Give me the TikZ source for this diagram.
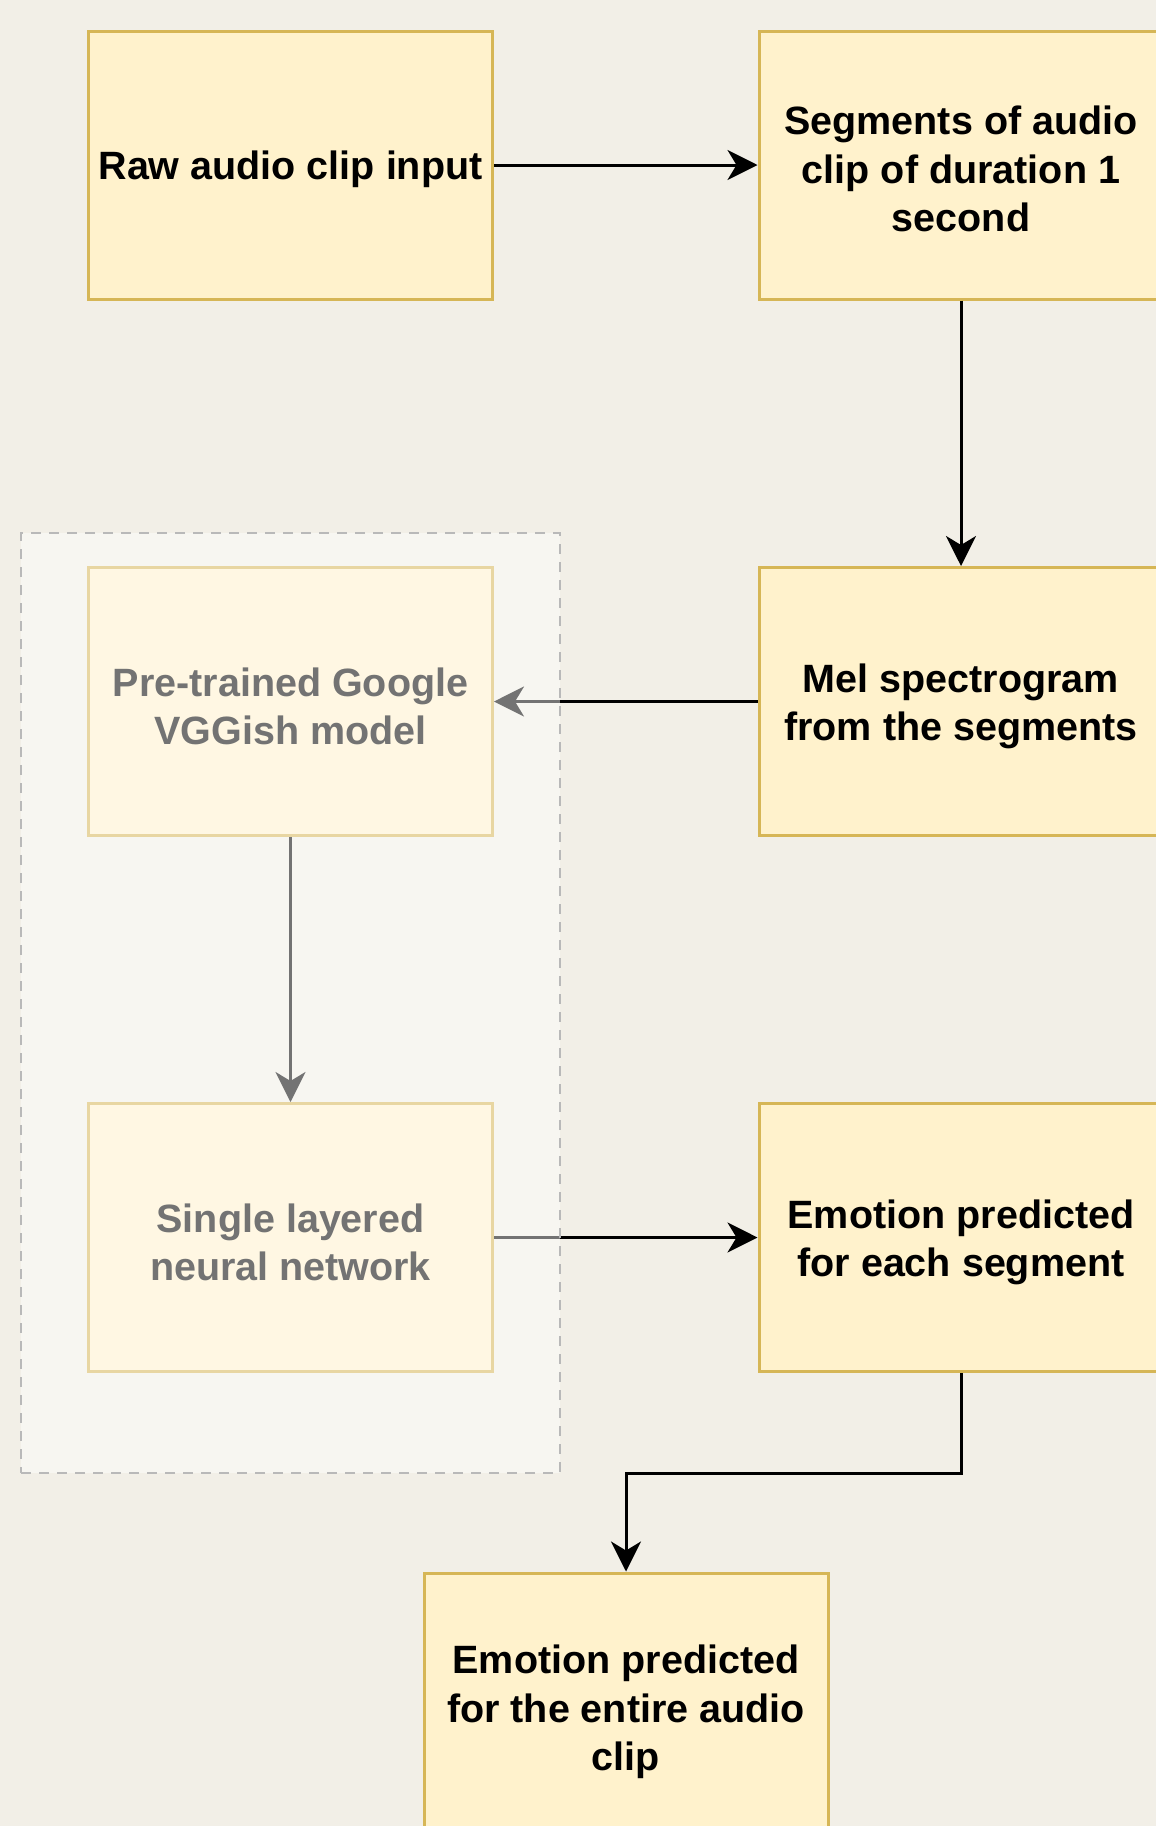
\documentclass[tikz,border=0pt]{standalone}
\usepackage{fontspec}
\setmainfont{Liberation Sans}
\usetikzlibrary{arrows.meta,positioning}
\definecolor{bgc}{RGB}{242,239,231}
\definecolor{boxfill}{HTML}{FFF2CC}
\definecolor{boxdraw}{HTML}{D6B656}
\definecolor{grpdraw}{RGB}{185,185,185}
\tikzset{
  stepbox/.style={draw=boxdraw, fill=boxfill, line width=3pt, rectangle,
    minimum width=404pt, minimum height=268pt, inner sep=0pt},
  steptext/.style={align=center, inner sep=0pt,
    font=\fontsize{39.5}{48.3}\selectfont\bfseries},
  flow/.style={draw=black, line width=3pt,
    -{Stealth[length=30pt, width=30pt, inset=9pt]}},
  grp/.style={draw=grpdraw, line width=2.2pt, dash pattern=on 10pt off 8pt,
    fill=white, fill opacity=0.45}
}
\begin{document}
\begin{tikzpicture}[x=1pt, y=-1pt]
  \useasboundingbox (0,0) rectangle (1156,1826);
  \clip (0,0) rectangle (1156,1826);
  \fill[bgc] (0,0) rectangle (1156,1826);

  \node[stepbox] (raw) at (290.5,165) {};
  \node[stepbox] (seg) at (961,165) {};
  \node[stepbox] (mel) at (961,701.5) {};
  \node[stepbox] (vgg) at (290.5,701.5) {};
  \node[stepbox] (nn) at (290.5,1237.5) {};
  \node[stepbox] (emo) at (961,1237.5) {};
  \node[stepbox] (fin) at (626,1707) {};

  \node[steptext] (rawt) at ([yshift=-4pt]raw.center) {Raw audio clip input};
  \node[steptext] (segt) at ([yshift=-4pt]seg.center) {Segments of audio\\clip of duration 1\\second};
  \node[steptext] (melt) at ([yshift=-5pt]mel.center) {Mel spectrogram\\from the segments};
  \node[steptext] (vggt) at ([yshift=-5pt]vgg.center) {Pre-trained Google\\VGGish model};
  \node[steptext] (nnt) at ([yshift=-5pt]nn.center) {Single layered\\neural network};
  \node[steptext] (emot) at ([yshift=-5pt]emo.center) {Emotion predicted\\for each segment};
  \node[steptext] (fint) at ([yshift=-5pt]fin.center) {Emotion predicted\\for the entire audio\\clip};

  \coordinate (bend) at (961,1473);

  \draw[flow] (raw.east) -- (seg.west);
  \draw[flow] (seg.south) -- (mel.north);
  \draw[flow] (mel.west) -- (vgg.east);
  \draw[flow] (vgg.south) -- (nn.north);
  \draw[flow] (nn.east) -- (emo.west);
  \draw[flow] (emo.south) -- (bend) -| (fin.north);

  % semi-transparent group container drawn over its contents
  \node[grp, rectangle, minimum width=539pt, minimum height=940pt, inner sep=0pt]
    (group) at (290.5,1003) {};
\end{tikzpicture}
\end{document}
